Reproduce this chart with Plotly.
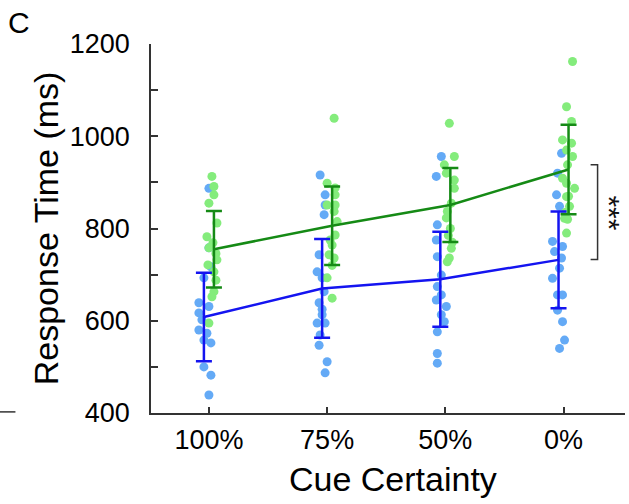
import plotly.graph_objects as go

# ---------------- data ----------------
categories = ["100%", "75%", "50%", "0%"]

blue_100 = [887, 758, 717, 693, 639, 631, 617, 602, 580, 573, 558, 552, 500, 482, 439]
blue_100_dx = [0, 0, 2, -5, -10, 0, -10, -7, -10, -2, -5, 2, -5, 2, 0]
green_100 = [913, 891, 873, 855, 812, 782, 769, 758, 746, 732, 721, 706, 688, 663, 652, 595]
green_100_dx = [3, 5, 5, 0, 8, -2, 4, 0, 7, 8, -1, 5, 7, 5, 3, 0]

blue_75 = [916, 873, 851, 830, 743, 706, 693, 663, 639, 625, 613, 595, 595, 569, 547, 511, 487]
blue_75_dx = [-7, -2, -2, -3, -8, -10, -5, -3, -8, -5, -5, -10, -2, -7, -8, 0, -2]
green_75 = [1039, 898, 888, 873, 851, 851, 837, 815, 786, 775, 764, 743, 736, 720, 693, 649]
green_75_dx = [7, 0, 8, 8, 0, 8, 7, 10, 8, 3, 5, 2, 7, 5, 0, 5]

blue_50 = [956, 913, 808, 775, 739, 699, 674, 656, 645, 631, 613, 598, 576, 529, 508]
blue_50_dx = [-4, -9, -8, -9, -8, -4, -8, -4, -9, 1, -4, -1, -8, -8, -8]
green_50 = [1028, 956, 938, 920, 905, 887, 855, 837, 823, 800, 785, 770, 757, 736, 728]
green_50_dx = [4, 9, -1, 1, 9, 9, 6, 2, 1, 5, 3, 7, 6, 4, 2]

blue_0 = [963, 920, 873, 848, 772, 761, 750, 736, 714, 692, 656, 656, 623, 598, 558, 540]
blue_0_dx = [-2, -6, -7, -4, -11, -1, -9, -2, -4, -11, -6, -1, -6, -1, 1, -4]
green_0 = [1162, 1064, 1032, 992, 985, 970, 956, 938, 909, 898, 887, 870, 869, 848, 835, 822, 820, 790]
green_0_dx = [9, 3, 8, -1, 8, 3, 9, 4, -1, 3, 11, 5, 3, 6, 2, 1, 4, 3]

mean_blue = [608, 670, 690, 732]
sd_blue = [96, 107, 103, 105]
mean_green = [755, 806, 851, 928]
sd_green = [83, 85, 80, 97]

sig_low = 733
sig_high = 938
sig_label = "***"

# ---------------- styling ----------------
BLUE_DOT = "#64aaf6"
GREEN_DOT = "#84ec7c"
BLUE_LINE = "#1414f0"
GREEN_LINE = "#158a15"
AXIS = "#333333"
FONT = "Liberation Sans, Arial, Helvetica, sans-serif"
PX = 1.0 / 118.0  # one pixel in x-axis units
OFF = 5 * PX

xs = [1, 2, 3, 4]
blue_sets = [(blue_100, blue_100_dx), (blue_75, blue_75_dx), (blue_50, blue_50_dx), (blue_0, blue_0_dx)]
green_sets = [(green_100, green_100_dx), (green_75, green_75_dx), (green_50, green_50_dx), (green_0, green_0_dx)]

fig = go.Figure()

for sets, col in ((blue_sets, BLUE_DOT), (green_sets, GREEN_DOT)):
    for xc, (vals, dx) in zip(xs, sets):
        fig.add_trace(go.Scatter(
            x=[xc + d * PX for d in dx], y=vals, mode="markers",
            marker=dict(size=9, color=col, line=dict(width=0)),
            showlegend=False, hoverinfo="skip", cliponaxis=False))

for means, sds, col, off in ((mean_blue, sd_blue, BLUE_LINE, -OFF), (mean_green, sd_green, GREEN_LINE, OFF)):
    fig.add_trace(go.Scatter(
        x=[xc + off for xc in xs], y=means, mode="lines",
        line=dict(color=col, width=2.5),
        error_y=dict(type="data", array=sds, visible=True, width=8, thickness=2.5, color=col),
        showlegend=False, hoverinfo="skip", cliponaxis=False))

# significance bracket
bx0 = 4.229
bx1 = 4.288
fig.add_shape(type="path",
              path=f"M {bx0},{sig_high} L {bx1},{sig_high} L {bx1},{sig_low} L {bx0},{sig_low}",
              xref="x", yref="y", line=dict(color=AXIS, width=1.5))

fig.add_annotation(x=4.39, y=(sig_low + sig_high) / 2 - 2, xref="x", yref="y",
                   text=sig_label, textangle=90, showarrow=False,
                   font=dict(family=FONT, size=30, color="#111111"),
                   xanchor="center", yanchor="middle")

# axis titles and panel letter
fig.add_annotation(x=-0.222, y=0.5, xref="paper", yref="paper", text="Response Time (ms)",
                   textangle=-90, showarrow=False, font=dict(family=FONT, size=34, color="black"),
                   xanchor="center", yanchor="middle")
fig.add_annotation(x=0.51, y=-0.18, xref="paper", yref="paper", text="Cue Certainty",
                   showarrow=False, font=dict(family=FONT, size=34, color="black"),
                   xanchor="center", yanchor="middle")
fig.add_annotation(x=-0.306, y=1.058, xref="paper", yref="paper", text="C",
                   showarrow=False, font=dict(family=FONT, size=30, color="black"),
                   xanchor="left", yanchor="middle")

# small fragment of the neighbouring panel
fig.add_shape(type="line", xref="paper", yref="paper", x0=-0.322, x1=-0.286, y0=0.003, y1=0.003,
              line=dict(color=AXIS, width=1.5))

fig.update_xaxes(range=[0.51, 4.52], tickvals=xs, ticktext=categories,
                 showline=True, linecolor=AXIS, linewidth=1.5,
                 ticks="inside", ticklen=6, tickwidth=1.5, tickcolor=AXIS,
                 showgrid=False, zeroline=False,
                 tickfont=dict(family=FONT, size=27, color="black"),
                 ticklabelstandoff=2)
fig.update_yaxes(range=[400, 1200], tickvals=[400, 600, 800, 1000, 1200],
                 showline=True, linecolor=AXIS, linewidth=1.5,
                 ticks="inside", ticklen=7, tickwidth=1.5, tickcolor=AXIS,
                 minor=dict(tickvals=[500, 700, 900, 1100], ticks="inside", ticklen=7,
                            tickwidth=1.5, tickcolor=AXIS),
                 showgrid=False, zeroline=False,
                 tickfont=dict(family=FONT, size=27, color="black"),
                 ticklabelstandoff=14)

fig.update_layout(width=629, height=504,
                  margin=dict(l=151, r=4, t=44, b=91, autoexpand=False),
                  paper_bgcolor="white", plot_bgcolor="white",
                  font=dict(family=FONT))

fig.write_html("out.html")
